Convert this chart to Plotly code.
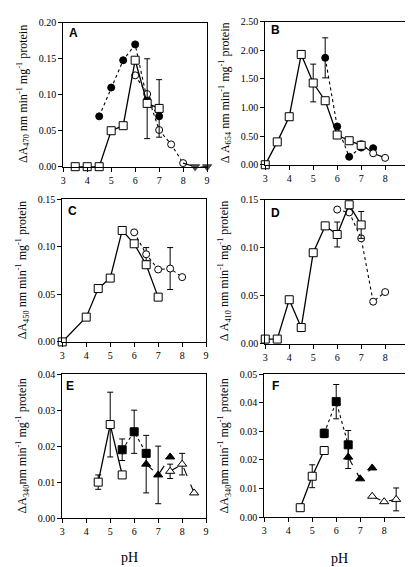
import plotly.graph_objects as go

W, H = 413, 567

# ---------------- data ----------------
# Panel A
A_sq_x = [3.5, 4, 4.5, 5, 5.5, 6, 6.5, 7]
A_sq_y = [0, 0, 0, 0.050, 0.057, 0.148, 0.088, 0.081]
A_sq_ep = [None, None, None, None, None, None, 0.062, 0.040]
A_sq_em = [None, None, None, None, None, None, 0.049, 0.040]
A_fc_x = [4.5, 5, 5.5, 6, 6.5, 7]
A_fc_y = [0.070, 0.110, 0.148, 0.170, 0.093, 0.070]
A_oc_x = [6, 6.5, 7, 7.5, 8]
A_oc_y = [0.127, 0.101, 0.051, 0.031, 0.005]
A_tri_x = [8, 8.5, 9]
A_tri_y = [0.005, 0, 0]

# Panel B
B_sq_x = [3, 3.5, 4, 4.5, 5, 5.5, 6, 6.5, 7]
B_sq_y = [0, 0.40, 0.84, 1.93, 1.43, 1.12, 0.52, 0.42, 0.34]
B_sq_e = [None, None, None, None, 0.33, None, None, None, None]
B_fc_x = [5.5, 6, 6.5, 7, 7.5]
B_fc_y = [1.87, 0.67, 0.14, 0.30, 0.29]
B_fc_e = [0.35, None, None, None, None]
B_oc_x = [7, 7.5, 8]
B_oc_y = [0.36, 0.20, 0.12]

# Panel C
C_sq_x = [3, 4, 4.5, 5, 5.5, 6, 6.5, 7]
C_sq_y = [0, 0.026, 0.056, 0.067, 0.117, 0.103, 0.081, 0.047]
C_oc_x = [6, 6.5, 7, 7.5, 8]
C_oc_y = [0.115, 0.092, 0.076, 0.077, 0.068]
C_oc_e = [None, 0.007, None, 0.022, None]

# Panel D
D_sq_x = [3, 3.5, 4, 4.5, 5, 5.5, 6, 6.5, 7]
D_sq_y = [0.005, 0.005, 0.046, 0.017, 0.095, 0.123, 0.114, 0.145, 0.124]
D_sq_e = [None, None, None, None, None, None, 0.013, None, 0.014]
D_oc_x = [6, 6.5, 7, 7.5, 8]
D_oc_y = [0.140, 0.137, 0.110, 0.044, 0.054]

# Panel E
E_osq_x = [4.5, 5, 5.5]
E_osq_y = [0.010, 0.026, 0.012]
E_osq_e = [0.002, 0.009, None]
E_fsq_x = [5.5, 6, 6.5]
E_fsq_y = [0.019, 0.024, 0.018]
E_fsq_e = [0.003, 0.006, None]
E_ftri_x = [6.5, 7, 7.5]
E_ftri_y = [0.015, 0.012, 0.017]
E_ftri_e = [0.008, 0.008, None]
E_otri_x = [7.5, 8, 8.5]
E_otri_y = [0.013, 0.015, 0.007]
E_otri_e = [0.002, 0.003, None]

# Panel F
F_osq_x = [4.5, 5, 5.5]
F_osq_y = [0.0033, 0.0143, 0.0233]
F_osq_e = [None, 0.004, None]
F_fsq_x = [5.5, 6, 6.5]
F_fsq_y = [0.0293, 0.0404, 0.0253]
F_fsq_e = [0.0015, 0.006, 0.005]
F_ftri_x = [6.5, 7, 7.5]
F_ftri_y = [0.021, 0.0134, 0.0172]
F_ftri_e = [0.004, None, None]
F_otri_x = [7.5, 8, 8.5]
F_otri_y = [0.0073, 0.0054, 0.0062]
F_otri_e = [None, None, 0.004]

x_ticks = [3, 4, 5, 6, 7, 8, 9]

# ---------------- layout geometry (pixels) ----------------
panels = {
    # name: (x0, x1, ytop, ybottom, ymax, dtick)
    "A": (53, 199, 9, 156, 0.20, 0.05),
    "B": (258, 404, 8, 154, 2.50, 0.50),
    "C": (52, 198, 189, 335, 0.15, 0.05),
    "D": (258, 404, 190, 337, 0.15, 0.05),
    "E": (52, 198, 368, 515, 0.04, 0.01),
    "F": (257, 403, 368, 514, 0.05, 0.01),
}
order = ["A", "B", "C", "D", "E", "F"]

fig = go.Figure()
SERIF = "Liberation Serif"


def add(panel_idx, x, y, symbol, filled, dash, err=None, errm=None, size=7, sizes=None, lw=1.1):
    ax = "" if panel_idx == 1 else str(panel_idx)
    marker = dict(symbol=symbol, size=sizes if sizes is not None else size,
                  color="black" if filled else "white",
                  line=dict(color="black", width=1))
    kw = {}
    if err is not None:
        ed = dict(type="data", array=err, color="black", thickness=1, width=3, visible=True)
        if errm is not None:
            ed["symmetric"] = False
            ed["arrayminus"] = errm
        kw["error_y"] = ed
    fig.add_trace(go.Scatter(x=x, y=y, mode="lines+markers", marker=marker,
                             line=dict(color="black", width=lw, dash=dash),
                             xaxis="x" + ax, yaxis="y" + ax, cliponaxis=False,
                             showlegend=False, **kw))


# A
add(1, A_fc_x, A_fc_y, "circle", True, "dot")
add(1, A_oc_x, A_oc_y, "circle", False, "dot")
add(1, A_tri_x, A_tri_y, "triangle-down", True, "dash", sizes=[0, 8, 8])
add(1, A_sq_x, A_sq_y, "square", False, "solid", err=A_sq_ep, errm=A_sq_em, size=8, lw=1.3)
# B
add(2, B_fc_x, B_fc_y, "circle", True, "dot", err=B_fc_e)
add(2, B_oc_x, B_oc_y, "circle", False, "solid")
add(2, B_sq_x, B_sq_y, "square", False, "solid", err=B_sq_e, size=8, lw=1.3)
# C
add(3, C_oc_x, C_oc_y, "circle", False, "dot", err=C_oc_e)
add(3, C_sq_x, C_sq_y, "square", False, "solid", size=8, lw=1.3)
# D
add(4, D_oc_x, D_oc_y, "circle", False, "dot")
add(4, D_sq_x, D_sq_y, "square", False, "solid", err=D_sq_e, size=8, lw=1.3)
# E
add(5, E_osq_x, E_osq_y, "square", False, "solid", err=E_osq_e, size=8, lw=1.3)
add(5, E_fsq_x, E_fsq_y, "square", True, "dot", err=E_fsq_e, size=8)
add(5, E_ftri_x, E_ftri_y, "triangle-up", True, "dash", err=E_ftri_e, size=8)
add(5, E_otri_x, E_otri_y, "triangle-up", False, "dash", err=E_otri_e, size=8)
# F
add(6, F_osq_x, F_osq_y, "square", False, "solid", err=F_osq_e, size=8, lw=1.3)
add(6, F_fsq_x, F_fsq_y, "square", True, "dot", err=F_fsq_e, size=8)
add(6, F_ftri_x, F_ftri_y, "triangle-up", True, "dash", err=F_ftri_e, size=8)
add(6, F_otri_x, F_otri_y, "triangle-up", False, "dash", err=F_otri_e, size=8)

layout = dict(width=W, height=H, margin=dict(l=0, r=0, t=0, b=0),
              paper_bgcolor="white", plot_bgcolor="white", showlegend=False)

for i, name in enumerate(order, start=1):
    x0, x1, yt, yb, ymax, dt = panels[name]
    sfx = "" if i == 1 else str(i)
    layout["xaxis" + sfx] = dict(
        domain=[x0 / W, x1 / W], anchor="y" + sfx, range=[3, 9],
        tickvals=x_ticks, ticks="outside", ticklen=4, tickwidth=1, tickcolor="black",
        showline=True, linecolor="black", linewidth=1, mirror=True,
        showgrid=False, zeroline=False,
        tickfont=dict(family=SERIF, size=10, color="black"))
    layout["yaxis" + sfx] = dict(
        domain=[1 - yb / H, 1 - yt / H], anchor="x" + sfx, range=[0, ymax],
        dtick=dt, tick0=0, tickformat=".2f", ticks="outside", ticklen=4, tickwidth=1,
        tickcolor="black", showline=True, linecolor="black", linewidth=1, mirror=True,
        showgrid=False, zeroline=False,
        tickfont=dict(family=SERIF, size=10, color="black"))

fig.update_layout(**layout)

ytitles = [
    ("ΔA<sub>470</sub> nm min<sup>-1</sup> mg<sup>-1</sup> protein", 12, 82),
    ("Δ A<sub>654</sub> nm min<sup>-1</sup> mg<sup>-1</sup> protein", 217, 80),
    ("ΔA<sub>450</sub> nm min<sup>-1</sup> mg<sup>-1</sup> protein", 12, 262),
    ("Δ A<sub>410</sub> nm min<sup>-1</sup> mg<sup>-1</sup> protein", 217, 262),
    ("ΔA<sub>340</sub>nm min<sup>-1</sup> mg<sup>-1</sup> protein", 12, 441),
    ("ΔA<sub>340</sub>nm min<sup>-1</sup> mg<sup>-1</sup> protein", 217, 441),
]
for txt, px, py in ytitles:
    fig.add_annotation(text=txt, x=px / W, y=1 - py / H, xref="paper", yref="paper",
                       textangle=-90, showarrow=False, xanchor="center", yanchor="middle",
                       font=dict(family=SERIF, size=12, color="black"))

letters = [("A", 63, 19), ("B", 268, 16), ("C", 62, 201), ("D", 268, 203), ("E", 60, 380), ("F", 268, 380)]
for t, px, py in letters:
    fig.add_annotation(text="<b>%s</b>" % t, x=px / W, y=1 - py / H, xref="paper", yref="paper",
                       showarrow=False, xanchor="center", yanchor="middle",
                       font=dict(family="Liberation Sans", size=12, color="black"))

for px, py in [(120, 555), (333, 556)]:
    fig.add_annotation(text="pH", x=px / W, y=1 - py / H, xref="paper", yref="paper",
                       showarrow=False, xanchor="center", yanchor="middle",
                       font=dict(family=SERIF, size=14, color="black"))

fig.write_html("out.html")
